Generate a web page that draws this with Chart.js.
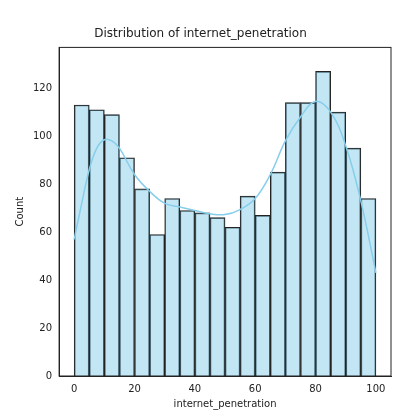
<!DOCTYPE html><html><head><script src="https://cdn.jsdelivr.net/npm/chart.js@4"></script>
<style>body{margin:0;background:#fff}#w{width:400px;height:416px}</style></head><body><div id="w"><canvas id="c"></canvas></div>
<script>
const binCenters=[2.5,7.5,12.5,17.5,22.5,27.5,32.5,37.5,42.5,47.5,52.5,57.5,62.5,67.5,72.5,77.5,82.5,87.5,92.5,97.5];
const counts=[113,111,109,91,78,59,74,69,68,66,62,75,67,85,114,114,127,110,95,74];
const kdeX=[0,2.5,5,7.5,10,12.5,15,20,25,30,35,40,45,50,55,60,65,70,75,80,85,90,95,100];
const kdeY=[57,72,86,95,98.5,98,95,84,77,72,70.5,69,67.6,67.3,69.4,74,84,98,108,114.5,110,96,73,43];
const xTicks=[0,20,40,60,80,100];
const yTicks=[0,20,40,60,80,100,120];
Chart.defaults.font.family="DejaVu Sans";Chart.defaults.font.size=10;Chart.defaults.color="#222";
new Chart(document.getElementById('c'),{data:{datasets:[
{type:'line',data:kdeX.map((x,i)=>({x,y:kdeY[i]})),borderColor:'#87ceeb',borderWidth:1.5,pointRadius:0,tension:0.4,fill:false},
{type:'bar',data:binCenters.map((x,i)=>({x,y:counts[i]})),backgroundColor:'rgba(135,206,235,0.5)',borderColor:'#222',borderWidth:1,categoryPercentage:1,barPercentage:1}
]},options:{animation:false,responsive:true,maintainAspectRatio:false,
layout:{padding:{left:10,right:9,top:0,bottom:6}},
plugins:{legend:{display:false},title:{display:true,text:'Distribution of internet_penetration',font:{size:12,weight:'normal'},padding:{top:27,bottom:6}}},
scales:{x:{type:'linear',offset:false,min:-5,max:105,afterBuildTicks:s=>{s.ticks=xTicks.map(v=>({value:v}));},grid:{display:false,tickLength:4},border:{color:'#222'},title:{display:true,text:'internet_penetration',padding:0}},
y:{min:0,max:137,afterBuildTicks:s=>{s.ticks=yTicks.map(v=>({value:v}));},grid:{display:false,tickLength:4},border:{color:'#222'},title:{display:true,text:'Count'}}}},
plugins:[{id:'box',afterDraw(c){const a=c.chartArea,x=c.ctx;x.save();x.strokeStyle='#222';x.lineWidth=1;x.strokeRect(a.left,a.top,a.right-a.left,a.bottom-a.top);x.restore();}}]});
</script></body></html>
